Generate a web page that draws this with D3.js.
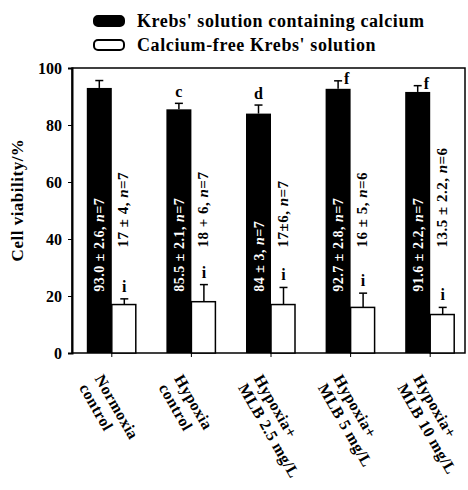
<!DOCTYPE html>
<html>
<head>
<meta charset="utf-8">
<script src="https://cdn.jsdelivr.net/npm/d3@7"></script>
<style>
  body { margin: 0; background: #fff; }
  text { font-family: "Liberation Serif", "DejaVu Serif", serif; font-weight: bold; }
</style>
</head>
<body>
<script>
// data
var groups = ["g1", "g2", "g3", "g4", "g5"];
var groupLines = [["Normoxia", "control"], ["Hypoxia", "control"], ["Hypoxia+", "MLB 2.5 mg/L"],
                  ["Hypoxia+", "MLB 5 mg/L"], ["Hypoxia+", "MLB 10 mg/L"]];
var calcium = [93.0, 85.5, 84, 92.7, 91.6];
var calciumErr = [2.6, 2.1, 3, 2.8, 2.2];
var calciumText = ["93.0 \u00b1 2.6, ", "85.5 \u00b1 2.1, ", "84 \u00b1 3, ", "92.7 \u00b1 2.8, ", "91.6 \u00b1 2.2, "];
var calciumN = [7, 7, 7, 7, 7];
var free = [17, 18, 17, 16, 13.5];
var freeErr = [2, 6, 6, 5, 2.5];
var freeText = ["17 \u00b1 4, ", "18 + 6, ", "17\u00b16, ", "16 \u00b1 5, ", "13.5 \u00b1 2.2, "];
var freeN = [7, 7, 7, 6, 6];
var sigCalcium = ["", "c", "d", "f", "f"];
var sigFree = ["i", "i", "i", "i", "i"];
var yTicks = [0, 20, 40, 60, 80, 100];

var W = 468, H = 490;
var svg = d3.select("body").append("svg").attr("width", W).attr("height", H);

var plotL = 72, plotR = 465, plotT = 68, plotB = 353;

var x = d3.scaleBand().domain(groups).range([72, 470]);
var y = d3.scaleLinear().domain([0, 100]).range([plotB, plotT]);
var barW = 25;
function cx(i) { return x(groups[i]) + x.bandwidth() / 2; }

// frame
svg.append("rect").attr("x", plotL).attr("y", plotT)
  .attr("width", plotR - plotL).attr("height", plotB - plotT)
  .attr("fill", "none").attr("stroke", "#000").attr("stroke-width", 1.5);

// y axis
var yAxis = svg.append("g").attr("transform", "translate(" + plotL + ",0)")
  .call(d3.axisLeft(y).tickValues(yTicks).tickSize(4).tickPadding(6));
yAxis.select(".domain").attr("stroke-width", 2);
yAxis.selectAll("text").attr("font-size", 16).attr("fill", "#000")
  .style("font-family", "Liberation Serif").style("font-weight", "bold");

svg.append("text")
  .attr("transform", "translate(23,200) rotate(-90)")
  .attr("text-anchor", "middle").attr("font-size", 17).attr("letter-spacing", 0.5)
  .text("Cell viability/%");

// x axis ticks
var xAxis = svg.append("g").attr("transform", "translate(0," + plotB + ")")
  .call(d3.axisBottom(x).tickSize(4).tickFormat(""));
xAxis.select(".domain").remove();

// bars
var idx = d3.range(groups.length);
svg.selectAll(".bk").data(idx).enter().append("rect")
  .attr("x", function(i) { return cx(i) - barW; })
  .attr("y", function(i) { return y(calcium[i]); })
  .attr("width", barW)
  .attr("height", function(i) { return plotB - y(calcium[i]); })
  .attr("fill", "#000");

svg.selectAll(".wh").data(idx).enter().append("rect")
  .attr("x", function(i) { return cx(i); })
  .attr("y", function(i) { return y(free[i]); })
  .attr("width", barW - 1)
  .attr("height", function(i) { return plotB - y(free[i]); })
  .attr("fill", "#fff").attr("stroke", "#000").attr("stroke-width", 1.5);

// error bars
function errBar(xc, v, e) {
  var g = svg.append("g").attr("stroke", "#000").attr("stroke-width", 1.5);
  g.append("line").attr("x1", xc).attr("x2", xc).attr("y1", y(v)).attr("y2", y(v + e));
  g.append("line").attr("x1", xc - 4).attr("x2", xc + 4).attr("y1", y(v + e)).attr("y2", y(v + e));
}
idx.forEach(function(i) {
  errBar(cx(i) - barW / 2, calcium[i], calciumErr[i]);
  errBar(cx(i) + barW / 2, free[i], freeErr[i]);
});

// value labels
function statLabel(xb, yb, txt, n, color, size) {
  var t = svg.append("text")
    .attr("transform", "translate(" + xb + "," + yb + ") rotate(-90)")
    .attr("font-size", size).attr("fill", color).attr("letter-spacing", 0.5);
  t.append("tspan").text(txt);
  t.append("tspan").attr("font-style", "italic").text("n");
  t.append("tspan").text("=" + n);
}
idx.forEach(function(i) {
  statLabel(cx(i) - barW / 2 + 5, y(21.5), calciumText[i], calciumN[i], "#fff", 14);
  statLabel(cx(i) + barW / 2 + 4, y(37), freeText[i], freeN[i], "#000", 15);
});

// significance letters
idx.forEach(function(i) {
  if (sigCalcium[i] === "c" || sigCalcium[i] === "d") {
    svg.append("text").attr("x", cx(i) - barW / 2).attr("y", y(calcium[i] + calciumErr[i]) - 6)
      .attr("text-anchor", "middle").attr("font-size", 16).text(sigCalcium[i]);
  } else if (sigCalcium[i]) {
    svg.append("text").attr("x", cx(i) - barW / 2 + 6).attr("y", y(calcium[i] + calciumErr[i]) + 3)
      .attr("font-size", 16).text(sigCalcium[i]);
  }
  svg.append("text").attr("x", cx(i) + barW / 2).attr("y", y(free[i] + freeErr[i]) - 7)
    .attr("text-anchor", "middle").attr("font-size", 16).text(sigFree[i]);
});

// category labels
idx.forEach(function(i) {
  var g = svg.append("g").attr("transform", "translate(" + cx(i) + ",365) rotate(60)");
  groupLines[i].forEach(function(s, k) {
    g.append("text").attr("x", 3).attr("y", 22 + k * 18).attr("font-size", 16)
      .attr("letter-spacing", 0.4).text(s);
  });
});

// legend
var legend = [{fill: "#000", label: "Krebs' solution containing calcium", y: 16},
              {fill: "#fff", label: "Calcium-free Krebs' solution", y: 40}];
legend.forEach(function(d) {
  svg.append("rect").attr("x", 94).attr("y", d.y).attr("width", 30).attr("height", 10)
    .attr("rx", 4).attr("fill", d.fill).attr("stroke", "#000").attr("stroke-width", 2);
  svg.append("text").attr("x", 137).attr("y", d.y + 11).attr("font-size", 18)
    .attr("letter-spacing", 0.6).text(d.label);
});
</script>
</body>
</html>
